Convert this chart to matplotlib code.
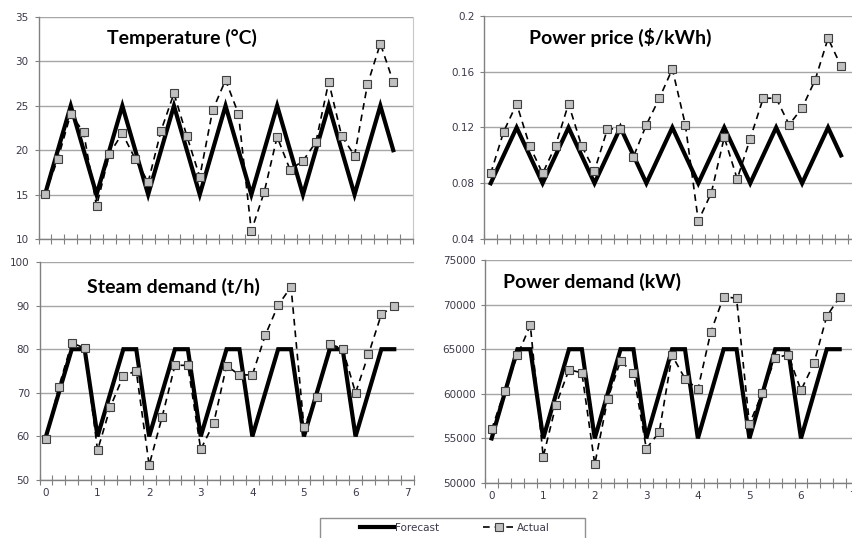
import numpy as np
import matplotlib
matplotlib.use("Agg")
import matplotlib.pyplot as plt
from matplotlib.lines import Line2D
from matplotlib.patches import Rectangle

# ---------------- data ----------------
x = [i * 0.25 for i in range(28)]

temp_forecast = [15, 20, 25, 20] * 7
temp_actual = [15.1, 19.0, 24.1, 22.0, 13.7, 19.6, 21.9, 19.0, 16.4, 22.2, 26.4, 21.6,
               17.0, 24.5, 27.9, 24.1, 10.9, 15.3, 21.5, 17.8, 18.8, 20.9, 27.7, 21.6,
               19.4, 27.4, 32.0, 27.7]

price_forecast = [0.08, 0.10, 0.12, 0.10] * 7
price_actual = [0.087, 0.117, 0.137, 0.107, 0.087, 0.107, 0.137, 0.107, 0.089, 0.119,
                0.119, 0.099, 0.122, 0.141, 0.162, 0.122, 0.053, 0.073, 0.113, 0.083,
                0.112, 0.141, 0.141, 0.122, 0.134, 0.154, 0.184, 0.164]

steam_forecast = [60, 70, 80, 80] * 7
steam_actual = [59.3, 71.4, 81.4, 80.3, 56.8, 66.8, 73.9, 75.0, 53.4, 64.4, 76.3, 76.3,
                57.0, 63.0, 76.2, 74.1, 74.1, 83.2, 90.1, 94.3, 62.1, 69.1, 81.2, 80.1,
                70.0, 78.8, 88.0, 89.9]

power_forecast = [55000, 60000, 65000, 65000] * 7
power_actual = [56000, 60300, 64300, 67700, 52950, 58800, 62700, 62350, 52100, 59400,
                63700, 62300, 53850, 55700, 64300, 61700, 60500, 66900, 70900, 70700,
                56600, 60100, 64000, 64400, 60400, 63400, 68700, 70850]

titles = ["Temperature (°C)", "Power price ($/kWh)", "Steam demand (t/h)", "Power demand (kW)"]
yticks_list = [[10, 15, 20, 25, 30, 35],
               [0.04, 0.08, 0.12, 0.16, 0.2],
               [50, 60, 70, 80, 90, 100],
               [50000, 55000, 60000, 65000, 70000, 75000]]
ytick_labels = [["10", "15", "20", "25", "30", "35"],
                ["0.04", "0.08", "0.12", "0.16", "0.2"],
                ["50", "60", "70", "80", "90", "100"],
                ["50000", "55000", "60000", "65000", "70000", "75000"]]
xtick_vals = [0, 1, 2, 3, 4, 5, 6, 7]
xtick_labels = ["0", "1", "2", "3", "4", "5", "6", "7"]

# ---------------- figure ----------------
W, H = 852, 538
fig = plt.figure(figsize=(W / 100, H / 100), dpi=100)

def rect(left, right, top, bottom):
    return [left / W, 1 - bottom / H, (right - left) / W, (bottom - top) / H]

rects = [rect(38.5, 412.6, 17, 239),
         rect(484.2, 860.5, 16, 239),
         rect(39.5, 413.6, 262, 480),
         rect(485.2, 859.0, 260, 483)]

title_pos = [(182, 38), (620, 37), (173, 287), (592, 282)]

series = [(temp_forecast, temp_actual), (price_forecast, price_actual),
          (steam_forecast, steam_actual), (power_forecast, power_actual)]

grid_col = "#A6A6A6"
label_col = "#3A3A4A"

for i in range(4):
    ax = fig.add_axes(rects[i])
    fc, ac = series[i]
    ax.plot(x, fc, color="black", lw=3.0, solid_joinstyle="miter", zorder=3)
    ax.plot(x, ac, color="black", lw=1.2, linestyle=(0, (4, 3)),
            marker="s", markersize=5.3, markerfacecolor="#C0C0C0",
            markeredgecolor="#404040", markeredgewidth=0.8, zorder=4)
    yt = yticks_list[i]
    ax.set_ylim(yt[0], yt[-1])
    ax.set_yticks(yt)
    ax.set_yticklabels(ytick_labels[i], fontsize=7.5, color=label_col)
    ax.set_xlim(-0.125, 7.125)
    ax.set_xticks(xtick_vals)
    if i >= 2:
        ax.set_xticklabels(xtick_labels, fontsize=7.5, color=label_col)
    else:
        ax.set_xticklabels([])
    ax.set_xticks(np.arange(-0.125, 7.2, 0.25), minor=True)
    ax.tick_params(axis="x", which="major", length=0, pad=6)
    ax.tick_params(axis="x", which="minor", direction="inout", length=7,
                   width=0.8, color="#808080")
    ax.tick_params(axis="y", which="major", direction="out", length=3,
                   width=0.8, color="#808080", pad=4)
    ax.grid(axis="y", color=grid_col, lw=1.0)
    ax.set_axisbelow(True)
    for s in ["top", "right"]:
        ax.spines[s].set_visible(False)
    for s in ["left", "bottom"]:
        ax.spines[s].set_color("#808080")
        ax.spines[s].set_linewidth(1.0)
    if i == 0:
        ax.spines["right"].set_visible(True)
        ax.spines["right"].set_color("#C8C8C8")
    tx, ty = title_pos[i]
    fig.text(tx / W, 1 - ty / H, titles[i], fontsize=14, fontweight="bold",
             family="Lato", ha="center", va="center", color="black")

# legend box
fig.patches.append(Rectangle((320 / W, 1 - 545 / H), 265 / W, 27 / H,
                             transform=fig.transFigure, facecolor="white",
                             edgecolor="#909090", lw=1.0))
handles = [Line2D([], [], color="black", lw=3.0),
           Line2D([], [], color="black", lw=1.2, linestyle=(0, (4, 3)), marker="s",
                  markersize=5.3, markerfacecolor="#C0C0C0", markeredgecolor="#404040",
                  markeredgewidth=0.8)]
leg = fig.legend(handles, ["Forecast", "Actual"], loc="center",
                 bbox_to_anchor=(455 / W, 1 - 528 / H), ncol=2, fontsize=7.5,
                 frameon=False, handlelength=3.2, handletextpad=0.1,
                 columnspacing=4.2, borderpad=0, borderaxespad=0)
for t in leg.get_texts():
    t.set_color(label_col)

fig.savefig("out.png", dpi=100)
